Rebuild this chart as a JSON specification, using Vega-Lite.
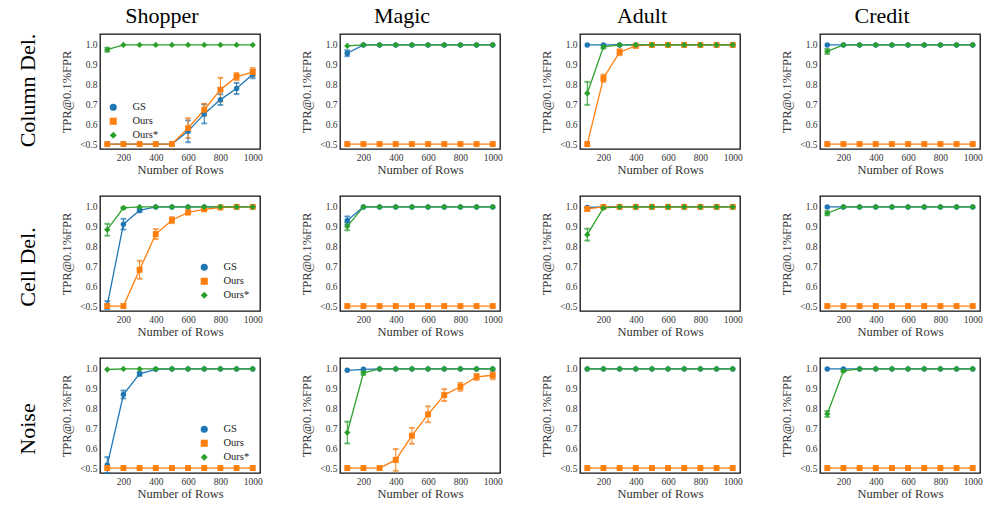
{
"$schema":"https://vega.github.io/schema/vega-lite/v6.json",
"padding":{"left":17,"top":4,"right":5,"bottom":5},
"background":"white",
"datasets":{
"col_Shopper":[
{"m":"GS","x":100,"v":0.5},{"m":"GS","x":200,"v":0.5},{"m":"GS","x":300,"v":0.5},{"m":"GS","x":400,"v":0.5},{"m":"GS","x":500,"v":0.5},{"m":"GS","x":600,"v":0.564,"e":0.055},{"m":"GS","x":700,"v":0.652,"e":0.048},{"m":"GS","x":800,"v":0.724,"e":0.027},{"m":"GS","x":900,"v":0.78,"e":0.028},{"m":"GS","x":1000,"v":0.852,"e":0.02},
{"m":"Ours","x":100,"v":0.5},{"m":"Ours","x":200,"v":0.5},{"m":"Ours","x":300,"v":0.5},{"m":"Ours","x":400,"v":0.5},{"m":"Ours","x":500,"v":0.5},{"m":"Ours","x":600,"v":0.58,"e":0.05},{"m":"Ours","x":700,"v":0.673,"e":0.03},{"m":"Ours","x":800,"v":0.774,"e":0.06},{"m":"Ours","x":900,"v":0.84,"e":0.018},{"m":"Ours","x":1000,"v":0.863,"e":0.02},
{"m":"Ours*","x":100,"v":0.976,"e":0.01},{"m":"Ours*","x":200,"v":1},{"m":"Ours*","x":300,"v":1},{"m":"Ours*","x":400,"v":1},{"m":"Ours*","x":500,"v":1},{"m":"Ours*","x":600,"v":1},{"m":"Ours*","x":700,"v":1},{"m":"Ours*","x":800,"v":1},{"m":"Ours*","x":900,"v":1},{"m":"Ours*","x":1000,"v":1}],
"col_Magic":[
{"m":"GS","x":100,"v":0.958,"e":0.015},{"m":"GS","x":200,"v":1},{"m":"GS","x":300,"v":1},{"m":"GS","x":400,"v":1},{"m":"GS","x":500,"v":1},{"m":"GS","x":600,"v":1},{"m":"GS","x":700,"v":1},{"m":"GS","x":800,"v":1},{"m":"GS","x":900,"v":1},{"m":"GS","x":1000,"v":1},
{"m":"Ours","x":100,"v":0.5},{"m":"Ours","x":200,"v":0.5},{"m":"Ours","x":300,"v":0.5},{"m":"Ours","x":400,"v":0.5},{"m":"Ours","x":500,"v":0.5},{"m":"Ours","x":600,"v":0.5},{"m":"Ours","x":700,"v":0.5},{"m":"Ours","x":800,"v":0.5},{"m":"Ours","x":900,"v":0.5},{"m":"Ours","x":1000,"v":0.5},
{"m":"Ours*","x":100,"v":0.995},{"m":"Ours*","x":200,"v":1},{"m":"Ours*","x":300,"v":1},{"m":"Ours*","x":400,"v":1},{"m":"Ours*","x":500,"v":1},{"m":"Ours*","x":600,"v":1},{"m":"Ours*","x":700,"v":1},{"m":"Ours*","x":800,"v":1},{"m":"Ours*","x":900,"v":1},{"m":"Ours*","x":1000,"v":1}],
"col_Adult":[
{"m":"GS","x":100,"v":1},{"m":"GS","x":200,"v":1},{"m":"GS","x":300,"v":1},{"m":"GS","x":400,"v":1},{"m":"GS","x":500,"v":1},{"m":"GS","x":600,"v":1},{"m":"GS","x":700,"v":1},{"m":"GS","x":800,"v":1},{"m":"GS","x":900,"v":1},{"m":"GS","x":1000,"v":1},
{"m":"Ours","x":100,"v":0.5},{"m":"Ours","x":200,"v":0.832,"e":0.018},{"m":"Ours","x":300,"v":0.963,"e":0.015},{"m":"Ours","x":400,"v":0.995,"e":0.005},{"m":"Ours","x":500,"v":1},{"m":"Ours","x":600,"v":1},{"m":"Ours","x":700,"v":1},{"m":"Ours","x":800,"v":1},{"m":"Ours","x":900,"v":1},{"m":"Ours","x":1000,"v":1},
{"m":"Ours*","x":100,"v":0.756,"e":0.058},{"m":"Ours*","x":200,"v":0.99,"e":0.008},{"m":"Ours*","x":300,"v":1},{"m":"Ours*","x":400,"v":1},{"m":"Ours*","x":500,"v":1},{"m":"Ours*","x":600,"v":1},{"m":"Ours*","x":700,"v":1},{"m":"Ours*","x":800,"v":1},{"m":"Ours*","x":900,"v":1},{"m":"Ours*","x":1000,"v":1}],
"col_Credit":[
{"m":"GS","x":100,"v":1},{"m":"GS","x":200,"v":1},{"m":"GS","x":300,"v":1},{"m":"GS","x":400,"v":1},{"m":"GS","x":500,"v":1},{"m":"GS","x":600,"v":1},{"m":"GS","x":700,"v":1},{"m":"GS","x":800,"v":1},{"m":"GS","x":900,"v":1},{"m":"GS","x":1000,"v":1},
{"m":"Ours","x":100,"v":0.5},{"m":"Ours","x":200,"v":0.5},{"m":"Ours","x":300,"v":0.5},{"m":"Ours","x":400,"v":0.5},{"m":"Ours","x":500,"v":0.5},{"m":"Ours","x":600,"v":0.5},{"m":"Ours","x":700,"v":0.5},{"m":"Ours","x":800,"v":0.5},{"m":"Ours","x":900,"v":0.5},{"m":"Ours","x":1000,"v":0.5},
{"m":"Ours*","x":100,"v":0.967,"e":0.012},{"m":"Ours*","x":200,"v":1},{"m":"Ours*","x":300,"v":1},{"m":"Ours*","x":400,"v":1},{"m":"Ours*","x":500,"v":1},{"m":"Ours*","x":600,"v":1},{"m":"Ours*","x":700,"v":1},{"m":"Ours*","x":800,"v":1},{"m":"Ours*","x":900,"v":1},{"m":"Ours*","x":1000,"v":1}],
"cell_Shopper":[
{"m":"GS","x":100,"v":0.505,"e":0.02},{"m":"GS","x":200,"v":0.913,"e":0.027},{"m":"GS","x":300,"v":0.983,"e":0.01},{"m":"GS","x":400,"v":1},{"m":"GS","x":500,"v":1},{"m":"GS","x":600,"v":1},{"m":"GS","x":700,"v":1},{"m":"GS","x":800,"v":1},{"m":"GS","x":900,"v":1},{"m":"GS","x":1000,"v":1},
{"m":"Ours","x":100,"v":0.5},{"m":"Ours","x":200,"v":0.5},{"m":"Ours","x":300,"v":0.683,"e":0.045},{"m":"Ours","x":400,"v":0.863,"e":0.025},{"m":"Ours","x":500,"v":0.933,"e":0.015},{"m":"Ours","x":600,"v":0.972,"e":0.01},{"m":"Ours","x":700,"v":0.988,"e":0.005},{"m":"Ours","x":800,"v":0.997},{"m":"Ours","x":900,"v":1},{"m":"Ours","x":1000,"v":1},
{"m":"Ours*","x":100,"v":0.885,"e":0.03},{"m":"Ours*","x":200,"v":0.995,"e":0.005},{"m":"Ours*","x":300,"v":1},{"m":"Ours*","x":400,"v":1},{"m":"Ours*","x":500,"v":1},{"m":"Ours*","x":600,"v":1},{"m":"Ours*","x":700,"v":1},{"m":"Ours*","x":800,"v":1},{"m":"Ours*","x":900,"v":1},{"m":"Ours*","x":1000,"v":1}],
"cell_Magic":[
{"m":"GS","x":100,"v":0.932,"e":0.02},{"m":"GS","x":200,"v":1},{"m":"GS","x":300,"v":1},{"m":"GS","x":400,"v":1},{"m":"GS","x":500,"v":1},{"m":"GS","x":600,"v":1},{"m":"GS","x":700,"v":1},{"m":"GS","x":800,"v":1},{"m":"GS","x":900,"v":1},{"m":"GS","x":1000,"v":1},
{"m":"Ours","x":100,"v":0.5},{"m":"Ours","x":200,"v":0.5},{"m":"Ours","x":300,"v":0.5},{"m":"Ours","x":400,"v":0.5},{"m":"Ours","x":500,"v":0.5},{"m":"Ours","x":600,"v":0.5},{"m":"Ours","x":700,"v":0.5},{"m":"Ours","x":800,"v":0.5},{"m":"Ours","x":900,"v":0.5},{"m":"Ours","x":1000,"v":0.5},
{"m":"Ours*","x":100,"v":0.902,"e":0.02},{"m":"Ours*","x":200,"v":1},{"m":"Ours*","x":300,"v":1},{"m":"Ours*","x":400,"v":1},{"m":"Ours*","x":500,"v":1},{"m":"Ours*","x":600,"v":1},{"m":"Ours*","x":700,"v":1},{"m":"Ours*","x":800,"v":1},{"m":"Ours*","x":900,"v":1},{"m":"Ours*","x":1000,"v":1}],
"cell_Adult":[
{"m":"GS","x":100,"v":0.997},{"m":"GS","x":200,"v":1},{"m":"GS","x":300,"v":1},{"m":"GS","x":400,"v":1},{"m":"GS","x":500,"v":1},{"m":"GS","x":600,"v":1},{"m":"GS","x":700,"v":1},{"m":"GS","x":800,"v":1},{"m":"GS","x":900,"v":1},{"m":"GS","x":1000,"v":1},
{"m":"Ours","x":100,"v":0.99,"e":0.008},{"m":"Ours","x":200,"v":1},{"m":"Ours","x":300,"v":1},{"m":"Ours","x":400,"v":1},{"m":"Ours","x":500,"v":1},{"m":"Ours","x":600,"v":1},{"m":"Ours","x":700,"v":1},{"m":"Ours","x":800,"v":1},{"m":"Ours","x":900,"v":1},{"m":"Ours","x":1000,"v":1},
{"m":"Ours*","x":100,"v":0.86,"e":0.03},{"m":"Ours*","x":200,"v":0.995,"e":0.005},{"m":"Ours*","x":300,"v":1},{"m":"Ours*","x":400,"v":1},{"m":"Ours*","x":500,"v":1},{"m":"Ours*","x":600,"v":1},{"m":"Ours*","x":700,"v":1},{"m":"Ours*","x":800,"v":1},{"m":"Ours*","x":900,"v":1},{"m":"Ours*","x":1000,"v":1}],
"cell_Credit":[
{"m":"GS","x":100,"v":1},{"m":"GS","x":200,"v":1},{"m":"GS","x":300,"v":1},{"m":"GS","x":400,"v":1},{"m":"GS","x":500,"v":1},{"m":"GS","x":600,"v":1},{"m":"GS","x":700,"v":1},{"m":"GS","x":800,"v":1},{"m":"GS","x":900,"v":1},{"m":"GS","x":1000,"v":1},
{"m":"Ours","x":100,"v":0.5},{"m":"Ours","x":200,"v":0.5},{"m":"Ours","x":300,"v":0.5},{"m":"Ours","x":400,"v":0.5},{"m":"Ours","x":500,"v":0.5},{"m":"Ours","x":600,"v":0.5},{"m":"Ours","x":700,"v":0.5},{"m":"Ours","x":800,"v":0.5},{"m":"Ours","x":900,"v":0.5},{"m":"Ours","x":1000,"v":0.5},
{"m":"Ours*","x":100,"v":0.968,"e":0.01},{"m":"Ours*","x":200,"v":1},{"m":"Ours*","x":300,"v":1},{"m":"Ours*","x":400,"v":1},{"m":"Ours*","x":500,"v":1},{"m":"Ours*","x":600,"v":1},{"m":"Ours*","x":700,"v":1},{"m":"Ours*","x":800,"v":1},{"m":"Ours*","x":900,"v":1},{"m":"Ours*","x":1000,"v":1}],
"noise_Shopper":[
{"m":"GS","x":100,"v":0.515,"e":0.04},{"m":"GS","x":200,"v":0.871,"e":0.02},{"m":"GS","x":300,"v":0.975,"e":0.01},{"m":"GS","x":400,"v":0.998},{"m":"GS","x":500,"v":1},{"m":"GS","x":600,"v":1},{"m":"GS","x":700,"v":1},{"m":"GS","x":800,"v":1},{"m":"GS","x":900,"v":1},{"m":"GS","x":1000,"v":1},
{"m":"Ours","x":100,"v":0.5},{"m":"Ours","x":200,"v":0.5},{"m":"Ours","x":300,"v":0.5},{"m":"Ours","x":400,"v":0.5},{"m":"Ours","x":500,"v":0.5},{"m":"Ours","x":600,"v":0.5},{"m":"Ours","x":700,"v":0.5},{"m":"Ours","x":800,"v":0.5},{"m":"Ours","x":900,"v":0.5},{"m":"Ours","x":1000,"v":0.5},
{"m":"Ours*","x":100,"v":0.997},{"m":"Ours*","x":200,"v":1},{"m":"Ours*","x":300,"v":1},{"m":"Ours*","x":400,"v":1},{"m":"Ours*","x":500,"v":1},{"m":"Ours*","x":600,"v":1},{"m":"Ours*","x":700,"v":1},{"m":"Ours*","x":800,"v":1},{"m":"Ours*","x":900,"v":1},{"m":"Ours*","x":1000,"v":1}],
"noise_Magic":[
{"m":"GS","x":100,"v":0.993},{"m":"GS","x":200,"v":0.998},{"m":"GS","x":300,"v":1},{"m":"GS","x":400,"v":1},{"m":"GS","x":500,"v":1},{"m":"GS","x":600,"v":1},{"m":"GS","x":700,"v":1},{"m":"GS","x":800,"v":1},{"m":"GS","x":900,"v":1},{"m":"GS","x":1000,"v":1},
{"m":"Ours","x":100,"v":0.5},{"m":"Ours","x":200,"v":0.5},{"m":"Ours","x":300,"v":0.5},{"m":"Ours","x":400,"v":0.541,"e":0.055},{"m":"Ours","x":500,"v":0.663,"e":0.04},{"m":"Ours","x":600,"v":0.771,"e":0.04},{"m":"Ours","x":700,"v":0.868,"e":0.03},{"m":"Ours","x":800,"v":0.91,"e":0.02},{"m":"Ours","x":900,"v":0.96,"e":0.015},{"m":"Ours","x":1000,"v":0.968,"e":0.02},
{"m":"Ours*","x":100,"v":0.679,"e":0.055},{"m":"Ours*","x":200,"v":0.98,"e":0.01},{"m":"Ours*","x":300,"v":1},{"m":"Ours*","x":400,"v":1},{"m":"Ours*","x":500,"v":1},{"m":"Ours*","x":600,"v":1},{"m":"Ours*","x":700,"v":1},{"m":"Ours*","x":800,"v":1},{"m":"Ours*","x":900,"v":1},{"m":"Ours*","x":1000,"v":1}],
"noise_Adult":[
{"m":"GS","x":100,"v":1},{"m":"GS","x":200,"v":1},{"m":"GS","x":300,"v":1},{"m":"GS","x":400,"v":1},{"m":"GS","x":500,"v":1},{"m":"GS","x":600,"v":1},{"m":"GS","x":700,"v":1},{"m":"GS","x":800,"v":1},{"m":"GS","x":900,"v":1},{"m":"GS","x":1000,"v":1},
{"m":"Ours","x":100,"v":0.5},{"m":"Ours","x":200,"v":0.5},{"m":"Ours","x":300,"v":0.5},{"m":"Ours","x":400,"v":0.5},{"m":"Ours","x":500,"v":0.5},{"m":"Ours","x":600,"v":0.5},{"m":"Ours","x":700,"v":0.5},{"m":"Ours","x":800,"v":0.5},{"m":"Ours","x":900,"v":0.5},{"m":"Ours","x":1000,"v":0.5},
{"m":"Ours*","x":100,"v":1},{"m":"Ours*","x":200,"v":1},{"m":"Ours*","x":300,"v":1},{"m":"Ours*","x":400,"v":1},{"m":"Ours*","x":500,"v":1},{"m":"Ours*","x":600,"v":1},{"m":"Ours*","x":700,"v":1},{"m":"Ours*","x":800,"v":1},{"m":"Ours*","x":900,"v":1},{"m":"Ours*","x":1000,"v":1}],
"noise_Credit":[
{"m":"GS","x":100,"v":1},{"m":"GS","x":200,"v":1},{"m":"GS","x":300,"v":1},{"m":"GS","x":400,"v":1},{"m":"GS","x":500,"v":1},{"m":"GS","x":600,"v":1},{"m":"GS","x":700,"v":1},{"m":"GS","x":800,"v":1},{"m":"GS","x":900,"v":1},{"m":"GS","x":1000,"v":1},
{"m":"Ours","x":100,"v":0.5},{"m":"Ours","x":200,"v":0.5},{"m":"Ours","x":300,"v":0.5},{"m":"Ours","x":400,"v":0.5},{"m":"Ours","x":500,"v":0.5},{"m":"Ours","x":600,"v":0.5},{"m":"Ours","x":700,"v":0.5},{"m":"Ours","x":800,"v":0.5},{"m":"Ours","x":900,"v":0.5},{"m":"Ours","x":1000,"v":0.5},
{"m":"Ours*","x":100,"v":0.773,"e":0.015},{"m":"Ours*","x":200,"v":0.99,"e":0.005},{"m":"Ours*","x":300,"v":1},{"m":"Ours*","x":400,"v":1},{"m":"Ours*","x":500,"v":1},{"m":"Ours*","x":600,"v":1},{"m":"Ours*","x":700,"v":1},{"m":"Ours*","x":800,"v":1},{"m":"Ours*","x":900,"v":1},{"m":"Ours*","x":1000,"v":1}]
},
"config":{
"view":{"stroke":"#111","strokeWidth":1.3},
"range":{"category":["#1f77b4","#ff7f0e","#2ca02c"]},
"title":{"font":"Liberation Serif","fontSize":22,"fontWeight":"normal","color":"#000","anchor":"middle"},
"axis":{"ticks":false,"domain":false,"grid":false,"labelFont":"Liberation Serif","labelFontSize":9.5,"labelColor":"#333","titleFont":"Liberation Serif","titleFontSize":12.5,"titleFontWeight":"normal","titleColor":"#333","labelPadding":3},
"axisY":{"titlePadding":6},
"axisX":{"titlePadding":2,"format":"d"},
"legend":{"labelFont":"Liberation Serif","labelFontSize":10.5,"labelColor":"#222","rowPadding":3,"padding":0,"labelOffset":14,"symbolSize":50}
},
"spacing":18,
"resolve":{"legend":{"color":"independent","shape":"independent","size":"independent","stroke":"independent"}},
"vconcat":[
{"title":{"text":"Column Del.","orient":"left","offset":20},"bounds":"flush","spacing":80,"resolve":{"legend":{"color":"independent","shape":"independent","size":"independent","stroke":"independent"}},
"hconcat":[
{"width":160,"height":115,"title":{"text":"Shopper","dx":-18,"offset":6},"data":{"name":"col_Shopper"},
"encoding":{"x":{"field":"x","type":"quantitative","scale":{"domain":[55,1045],"nice":false},"axis":{"values":[200,400,600,800,1000],"title":"Number of Rows"}},"y":{"field":"v","type":"quantitative","scale":{"domain":[0.475,1.055],"nice":false,"zero":false},"axis":{"values":[0.5,0.6,0.7,0.8,0.9,1],"labelExpr":"datum.value<=0.5?'<0.5':format(datum.value,'.1f')","title":"TPR@0.1%FPR"}}},
"layer":[
{"transform":[{"filter":"datum.e>0"}],"mark":{"type":"errorbar","ticks":true,"thickness":1},"encoding":{"yError":{"field":"e"},"stroke":{"field":"m","type":"nominal","legend":null}}},
{"mark":{"type":"line","strokeWidth":1.3},"encoding":{"stroke":{"field":"m","type":"nominal","legend":null}}},
{"mark":{"type":"point","filled":true,"opacity":1},"encoding":{"color":{"field":"m","type":"nominal","legend":{"title":null,"orient":"bottom-left","offset":8}},"size":{"field":"m","type":"ordinal","scale":{"domain":["GS","Ours","Ours*"],"range":[30,40,70]},"legend":null},"shape":{"field":"m","type":"nominal","scale":{"range":["circle","square","diamond"]},"legend":{"title":null,"orient":"bottom-left","offset":8}}}}
]},
{"width":160,"height":115,"title":{"text":"Magic","dx":-18,"offset":6},"data":{"name":"col_Magic"},
"encoding":{"x":{"field":"x","type":"quantitative","scale":{"domain":[55,1045],"nice":false},"axis":{"values":[200,400,600,800,1000],"title":"Number of Rows"}},"y":{"field":"v","type":"quantitative","scale":{"domain":[0.475,1.055],"nice":false,"zero":false},"axis":{"values":[0.5,0.6,0.7,0.8,0.9,1],"labelExpr":"datum.value<=0.5?'<0.5':format(datum.value,'.1f')","title":"TPR@0.1%FPR"}}},
"layer":[
{"transform":[{"filter":"datum.e>0"}],"mark":{"type":"errorbar","ticks":true,"thickness":1},"encoding":{"yError":{"field":"e"},"stroke":{"field":"m","type":"nominal","legend":null}}},
{"mark":{"type":"line","strokeWidth":1.3},"encoding":{"stroke":{"field":"m","type":"nominal","legend":null}}},
{"mark":{"type":"point","filled":true,"opacity":1},"encoding":{"color":{"field":"m","type":"nominal","legend":null},"size":{"field":"m","type":"ordinal","scale":{"domain":["GS","Ours","Ours*"],"range":[30,40,70]},"legend":null},"shape":{"field":"m","type":"nominal","scale":{"range":["circle","square","diamond"]},"legend":null}}}
]},
{"width":160,"height":115,"title":{"text":"Adult","dx":-18,"offset":6},"data":{"name":"col_Adult"},
"encoding":{"x":{"field":"x","type":"quantitative","scale":{"domain":[55,1045],"nice":false},"axis":{"values":[200,400,600,800,1000],"title":"Number of Rows"}},"y":{"field":"v","type":"quantitative","scale":{"domain":[0.475,1.055],"nice":false,"zero":false},"axis":{"values":[0.5,0.6,0.7,0.8,0.9,1],"labelExpr":"datum.value<=0.5?'<0.5':format(datum.value,'.1f')","title":"TPR@0.1%FPR"}}},
"layer":[
{"transform":[{"filter":"datum.e>0"}],"mark":{"type":"errorbar","ticks":true,"thickness":1},"encoding":{"yError":{"field":"e"},"stroke":{"field":"m","type":"nominal","legend":null}}},
{"mark":{"type":"line","strokeWidth":1.3},"encoding":{"stroke":{"field":"m","type":"nominal","legend":null}}},
{"mark":{"type":"point","filled":true,"opacity":1},"encoding":{"color":{"field":"m","type":"nominal","legend":null},"size":{"field":"m","type":"ordinal","scale":{"domain":["GS","Ours","Ours*"],"range":[30,40,70]},"legend":null},"shape":{"field":"m","type":"nominal","scale":{"range":["circle","square","diamond"]},"legend":null}}}
]},
{"width":160,"height":115,"title":{"text":"Credit","dx":-18,"offset":6},"data":{"name":"col_Credit"},
"encoding":{"x":{"field":"x","type":"quantitative","scale":{"domain":[55,1045],"nice":false},"axis":{"values":[200,400,600,800,1000],"title":"Number of Rows"}},"y":{"field":"v","type":"quantitative","scale":{"domain":[0.475,1.055],"nice":false,"zero":false},"axis":{"values":[0.5,0.6,0.7,0.8,0.9,1],"labelExpr":"datum.value<=0.5?'<0.5':format(datum.value,'.1f')","title":"TPR@0.1%FPR"}}},
"layer":[
{"transform":[{"filter":"datum.e>0"}],"mark":{"type":"errorbar","ticks":true,"thickness":1},"encoding":{"yError":{"field":"e"},"stroke":{"field":"m","type":"nominal","legend":null}}},
{"mark":{"type":"line","strokeWidth":1.3},"encoding":{"stroke":{"field":"m","type":"nominal","legend":null}}},
{"mark":{"type":"point","filled":true,"opacity":1},"encoding":{"color":{"field":"m","type":"nominal","legend":null},"size":{"field":"m","type":"ordinal","scale":{"domain":["GS","Ours","Ours*"],"range":[30,40,70]},"legend":null},"shape":{"field":"m","type":"nominal","scale":{"range":["circle","square","diamond"]},"legend":null}}}
]}
]},
{"title":{"text":"Cell Del.","orient":"left","offset":20},"bounds":"flush","spacing":80,"resolve":{"legend":{"color":"independent","shape":"independent","size":"independent","stroke":"independent"}},
"hconcat":[
{"width":160,"height":115,"data":{"name":"cell_Shopper"},
"encoding":{"x":{"field":"x","type":"quantitative","scale":{"domain":[55,1045],"nice":false},"axis":{"values":[200,400,600,800,1000],"title":"Number of Rows"}},"y":{"field":"v","type":"quantitative","scale":{"domain":[0.475,1.055],"nice":false,"zero":false},"axis":{"values":[0.5,0.6,0.7,0.8,0.9,1],"labelExpr":"datum.value<=0.5?'<0.5':format(datum.value,'.1f')","title":"TPR@0.1%FPR"}}},
"layer":[
{"transform":[{"filter":"datum.e>0"}],"mark":{"type":"errorbar","ticks":true,"thickness":1},"encoding":{"yError":{"field":"e"},"stroke":{"field":"m","type":"nominal","legend":null}}},
{"mark":{"type":"line","strokeWidth":1.3},"encoding":{"stroke":{"field":"m","type":"nominal","legend":null}}},
{"mark":{"type":"point","filled":true,"opacity":1},"encoding":{"color":{"field":"m","type":"nominal","legend":{"title":null,"orient":"bottom-right","offset":10}},"size":{"field":"m","type":"ordinal","scale":{"domain":["GS","Ours","Ours*"],"range":[30,40,70]},"legend":null},"shape":{"field":"m","type":"nominal","scale":{"range":["circle","square","diamond"]},"legend":{"title":null,"orient":"bottom-right","offset":10}}}}
]},
{"width":160,"height":115,"data":{"name":"cell_Magic"},
"encoding":{"x":{"field":"x","type":"quantitative","scale":{"domain":[55,1045],"nice":false},"axis":{"values":[200,400,600,800,1000],"title":"Number of Rows"}},"y":{"field":"v","type":"quantitative","scale":{"domain":[0.475,1.055],"nice":false,"zero":false},"axis":{"values":[0.5,0.6,0.7,0.8,0.9,1],"labelExpr":"datum.value<=0.5?'<0.5':format(datum.value,'.1f')","title":"TPR@0.1%FPR"}}},
"layer":[
{"transform":[{"filter":"datum.e>0"}],"mark":{"type":"errorbar","ticks":true,"thickness":1},"encoding":{"yError":{"field":"e"},"stroke":{"field":"m","type":"nominal","legend":null}}},
{"mark":{"type":"line","strokeWidth":1.3},"encoding":{"stroke":{"field":"m","type":"nominal","legend":null}}},
{"mark":{"type":"point","filled":true,"opacity":1},"encoding":{"color":{"field":"m","type":"nominal","legend":null},"size":{"field":"m","type":"ordinal","scale":{"domain":["GS","Ours","Ours*"],"range":[30,40,70]},"legend":null},"shape":{"field":"m","type":"nominal","scale":{"range":["circle","square","diamond"]},"legend":null}}}
]},
{"width":160,"height":115,"data":{"name":"cell_Adult"},
"encoding":{"x":{"field":"x","type":"quantitative","scale":{"domain":[55,1045],"nice":false},"axis":{"values":[200,400,600,800,1000],"title":"Number of Rows"}},"y":{"field":"v","type":"quantitative","scale":{"domain":[0.475,1.055],"nice":false,"zero":false},"axis":{"values":[0.5,0.6,0.7,0.8,0.9,1],"labelExpr":"datum.value<=0.5?'<0.5':format(datum.value,'.1f')","title":"TPR@0.1%FPR"}}},
"layer":[
{"transform":[{"filter":"datum.e>0"}],"mark":{"type":"errorbar","ticks":true,"thickness":1},"encoding":{"yError":{"field":"e"},"stroke":{"field":"m","type":"nominal","legend":null}}},
{"mark":{"type":"line","strokeWidth":1.3},"encoding":{"stroke":{"field":"m","type":"nominal","legend":null}}},
{"mark":{"type":"point","filled":true,"opacity":1},"encoding":{"color":{"field":"m","type":"nominal","legend":null},"size":{"field":"m","type":"ordinal","scale":{"domain":["GS","Ours","Ours*"],"range":[30,40,70]},"legend":null},"shape":{"field":"m","type":"nominal","scale":{"range":["circle","square","diamond"]},"legend":null}}}
]},
{"width":160,"height":115,"data":{"name":"cell_Credit"},
"encoding":{"x":{"field":"x","type":"quantitative","scale":{"domain":[55,1045],"nice":false},"axis":{"values":[200,400,600,800,1000],"title":"Number of Rows"}},"y":{"field":"v","type":"quantitative","scale":{"domain":[0.475,1.055],"nice":false,"zero":false},"axis":{"values":[0.5,0.6,0.7,0.8,0.9,1],"labelExpr":"datum.value<=0.5?'<0.5':format(datum.value,'.1f')","title":"TPR@0.1%FPR"}}},
"layer":[
{"transform":[{"filter":"datum.e>0"}],"mark":{"type":"errorbar","ticks":true,"thickness":1},"encoding":{"yError":{"field":"e"},"stroke":{"field":"m","type":"nominal","legend":null}}},
{"mark":{"type":"line","strokeWidth":1.3},"encoding":{"stroke":{"field":"m","type":"nominal","legend":null}}},
{"mark":{"type":"point","filled":true,"opacity":1},"encoding":{"color":{"field":"m","type":"nominal","legend":null},"size":{"field":"m","type":"ordinal","scale":{"domain":["GS","Ours","Ours*"],"range":[30,40,70]},"legend":null},"shape":{"field":"m","type":"nominal","scale":{"range":["circle","square","diamond"]},"legend":null}}}
]}
]},
{"title":{"text":"Noise","orient":"left","offset":20},"bounds":"flush","spacing":80,"resolve":{"legend":{"color":"independent","shape":"independent","size":"independent","stroke":"independent"}},
"hconcat":[
{"width":160,"height":115,"data":{"name":"noise_Shopper"},
"encoding":{"x":{"field":"x","type":"quantitative","scale":{"domain":[55,1045],"nice":false},"axis":{"values":[200,400,600,800,1000],"title":"Number of Rows"}},"y":{"field":"v","type":"quantitative","scale":{"domain":[0.475,1.055],"nice":false,"zero":false},"axis":{"values":[0.5,0.6,0.7,0.8,0.9,1],"labelExpr":"datum.value<=0.5?'<0.5':format(datum.value,'.1f')","title":"TPR@0.1%FPR"}}},
"layer":[
{"transform":[{"filter":"datum.e>0"}],"mark":{"type":"errorbar","ticks":true,"thickness":1},"encoding":{"yError":{"field":"e"},"stroke":{"field":"m","type":"nominal","legend":null}}},
{"mark":{"type":"line","strokeWidth":1.3},"encoding":{"stroke":{"field":"m","type":"nominal","legend":null}}},
{"mark":{"type":"point","filled":true,"opacity":1},"encoding":{"color":{"field":"m","type":"nominal","legend":{"title":null,"orient":"bottom-right","offset":10}},"size":{"field":"m","type":"ordinal","scale":{"domain":["GS","Ours","Ours*"],"range":[30,40,70]},"legend":null},"shape":{"field":"m","type":"nominal","scale":{"range":["circle","square","diamond"]},"legend":{"title":null,"orient":"bottom-right","offset":10}}}}
]},
{"width":160,"height":115,"data":{"name":"noise_Magic"},
"encoding":{"x":{"field":"x","type":"quantitative","scale":{"domain":[55,1045],"nice":false},"axis":{"values":[200,400,600,800,1000],"title":"Number of Rows"}},"y":{"field":"v","type":"quantitative","scale":{"domain":[0.475,1.055],"nice":false,"zero":false},"axis":{"values":[0.5,0.6,0.7,0.8,0.9,1],"labelExpr":"datum.value<=0.5?'<0.5':format(datum.value,'.1f')","title":"TPR@0.1%FPR"}}},
"layer":[
{"transform":[{"filter":"datum.e>0"}],"mark":{"type":"errorbar","ticks":true,"thickness":1},"encoding":{"yError":{"field":"e"},"stroke":{"field":"m","type":"nominal","legend":null}}},
{"mark":{"type":"line","strokeWidth":1.3},"encoding":{"stroke":{"field":"m","type":"nominal","legend":null}}},
{"mark":{"type":"point","filled":true,"opacity":1},"encoding":{"color":{"field":"m","type":"nominal","legend":null},"size":{"field":"m","type":"ordinal","scale":{"domain":["GS","Ours","Ours*"],"range":[30,40,70]},"legend":null},"shape":{"field":"m","type":"nominal","scale":{"range":["circle","square","diamond"]},"legend":null}}}
]},
{"width":160,"height":115,"data":{"name":"noise_Adult"},
"encoding":{"x":{"field":"x","type":"quantitative","scale":{"domain":[55,1045],"nice":false},"axis":{"values":[200,400,600,800,1000],"title":"Number of Rows"}},"y":{"field":"v","type":"quantitative","scale":{"domain":[0.475,1.055],"nice":false,"zero":false},"axis":{"values":[0.5,0.6,0.7,0.8,0.9,1],"labelExpr":"datum.value<=0.5?'<0.5':format(datum.value,'.1f')","title":"TPR@0.1%FPR"}}},
"layer":[
{"transform":[{"filter":"datum.e>0"}],"mark":{"type":"errorbar","ticks":true,"thickness":1},"encoding":{"yError":{"field":"e"},"stroke":{"field":"m","type":"nominal","legend":null}}},
{"mark":{"type":"line","strokeWidth":1.3},"encoding":{"stroke":{"field":"m","type":"nominal","legend":null}}},
{"mark":{"type":"point","filled":true,"opacity":1},"encoding":{"color":{"field":"m","type":"nominal","legend":null},"size":{"field":"m","type":"ordinal","scale":{"domain":["GS","Ours","Ours*"],"range":[30,40,70]},"legend":null},"shape":{"field":"m","type":"nominal","scale":{"range":["circle","square","diamond"]},"legend":null}}}
]},
{"width":160,"height":115,"data":{"name":"noise_Credit"},
"encoding":{"x":{"field":"x","type":"quantitative","scale":{"domain":[55,1045],"nice":false},"axis":{"values":[200,400,600,800,1000],"title":"Number of Rows"}},"y":{"field":"v","type":"quantitative","scale":{"domain":[0.475,1.055],"nice":false,"zero":false},"axis":{"values":[0.5,0.6,0.7,0.8,0.9,1],"labelExpr":"datum.value<=0.5?'<0.5':format(datum.value,'.1f')","title":"TPR@0.1%FPR"}}},
"layer":[
{"transform":[{"filter":"datum.e>0"}],"mark":{"type":"errorbar","ticks":true,"thickness":1},"encoding":{"yError":{"field":"e"},"stroke":{"field":"m","type":"nominal","legend":null}}},
{"mark":{"type":"line","strokeWidth":1.3},"encoding":{"stroke":{"field":"m","type":"nominal","legend":null}}},
{"mark":{"type":"point","filled":true,"opacity":1},"encoding":{"color":{"field":"m","type":"nominal","legend":null},"size":{"field":"m","type":"ordinal","scale":{"domain":["GS","Ours","Ours*"],"range":[30,40,70]},"legend":null},"shape":{"field":"m","type":"nominal","scale":{"range":["circle","square","diamond"]},"legend":null}}}
]}
]}
]
}
